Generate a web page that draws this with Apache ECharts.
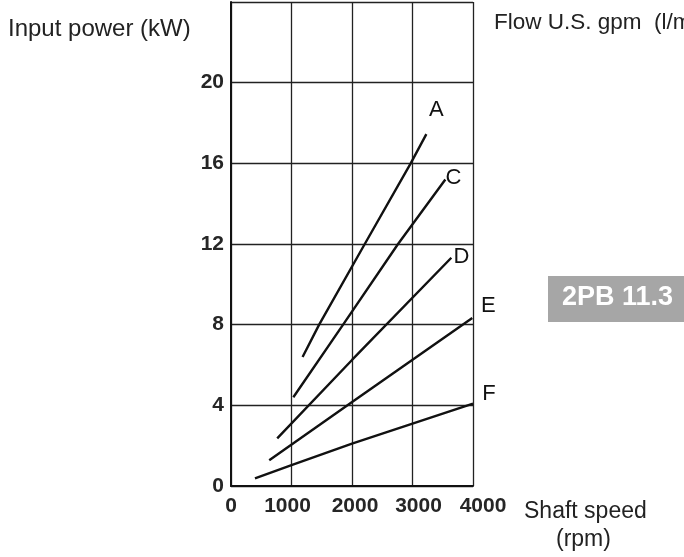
<!DOCTYPE html>
<html>
<head>
<meta charset="utf-8">
<script src="https://cdn.jsdelivr.net/npm/echarts@6/dist/echarts.min.js"></script>
<style>
  html, body { margin: 0; padding: 0; background: #fff; }
  #chart { width: 684px; height: 557px; }
</style>
</head>
<body>
<div id="chart"></div>
<script>
// Shaft speed (rpm) vs input power (kW) for pump sizes A–F
var curveNames = ['A', 'C', 'D', 'E', 'F'];
var curveA = [[1183, 6.4], [1457, 8], [2211, 12], [2970, 16], [3229, 17.45]];
var curveC = [[1030, 4.4], [1853, 8], [2761, 12], [3543, 15.2]];
var curveD = [[764, 2.36], [2000, 6.25], [3642, 11.32]];
var curveE = [[632, 1.28], [2043, 4.25], [3988, 8.33]];
var curveF = [[396, 0.38], [1000, 1.04], [2000, 2.1], [4000, 4.08]];
var curves = [curveA, curveC, curveD, curveE, curveF];

// label offsets from each curve's end point
var labelOffsets = [[10, -24], [8, -2], [10, -1], [16, -12], [16, -10]];

var xTicks = [0, 1000, 2000, 3000, 4000];
var yTicks = [0, 4, 8, 12, 16, 20];
// small horizontal nudges of the x tick labels (px)
var xTickShift = { 0: 0, 1000: -4, 2000: 3, 3000: 6, 4000: 10 };

var chart = echarts.init(document.getElementById('chart'));

var tickFont = { fontFamily: 'Liberation Sans', fontSize: 21, fontWeight: 'bold', color: '#262626' };

var series = curves.map(function (pts, i) {
  return {
    name: curveNames[i],
    type: 'line',
    data: pts,
    showSymbol: false,
    symbol: 'none',
    smooth: false,
    lineStyle: { color: '#111', width: 2.4 },
    endLabel: {
      show: true,
      formatter: '{a}',
      distance: 0,
      offset: labelOffsets[i],
      align: 'center',
      verticalAlign: 'middle',
      fontFamily: 'Liberation Sans',
      fontSize: 22,
      color: '#111'
    },
    animation: false
  };
});

// rich styles that shift a centred label left or right by padding one side
var xRich = {};
xTicks.forEach(function (v) {
  var s = xTickShift[v];
  xRich['t' + v] = Object.assign({
    padding: s >= 0 ? [0, 0, 0, 2 * s] : [0, -2 * s, 0, 0]
  }, tickFont);
});

chart.setOption({
  animation: false,
  backgroundColor: '#fff',
  grid: { left: 231, top: 2, right: 211, bottom: 71 },
  xAxis: {
    type: 'value',
    min: 0,
    max: 4000,
    interval: 1000,
    axisLine: { show: true, lineStyle: { color: '#111', width: 2 } },
    axisTick: { show: false },
    axisLabel: Object.assign({
      margin: 10,
      formatter: function (v) { return xTicks.indexOf(v) >= 0 ? '{t' + v + '|' + v + '}' : ''; },
      rich: xRich
    }, tickFont),
    splitLine: { show: true, lineStyle: { color: '#222', width: 1.3 } }
  },
  yAxis: {
    type: 'value',
    min: 0,
    max: 24,
    interval: 4,
    axisLine: { show: true, lineStyle: { color: '#111', width: 2 } },
    axisTick: { show: false },
    axisLabel: Object.assign({ margin: 7, formatter: function (v) { return yTicks.indexOf(v) >= 0 ? String(v) : ''; } }, tickFont),
    splitLine: { show: true, lineStyle: { color: '#222', width: 1.3 } }
  },
  graphic: [
    { type: 'text', left: 8, top: 17, style: { text: 'Input power (kW)', font: '24px "Liberation Sans"', fill: '#222' } },
    { type: 'text', left: 494, top: 11, style: { text: 'Flow U.S. gpm  (l/min)', font: '22.5px "Liberation Sans"', fill: '#222' } },
    { type: 'text', left: 524, top: 500, style: { text: 'Shaft speed', font: '23px "Liberation Sans"', fill: '#222' } },
    { type: 'text', left: 556, top: 528, style: { text: '(rpm)', font: '23px "Liberation Sans"', fill: '#222' } },
    { type: 'rect', shape: { x: 548, y: 276, width: 140, height: 46 }, style: { fill: '#a6a6a6' } },
    { type: 'text', left: 562, top: 284, style: { text: '2PB 11.3', font: 'bold 27px "Liberation Sans"', fill: '#fff' } }
  ],
  series: series
});
</script>
</body>
</html>
